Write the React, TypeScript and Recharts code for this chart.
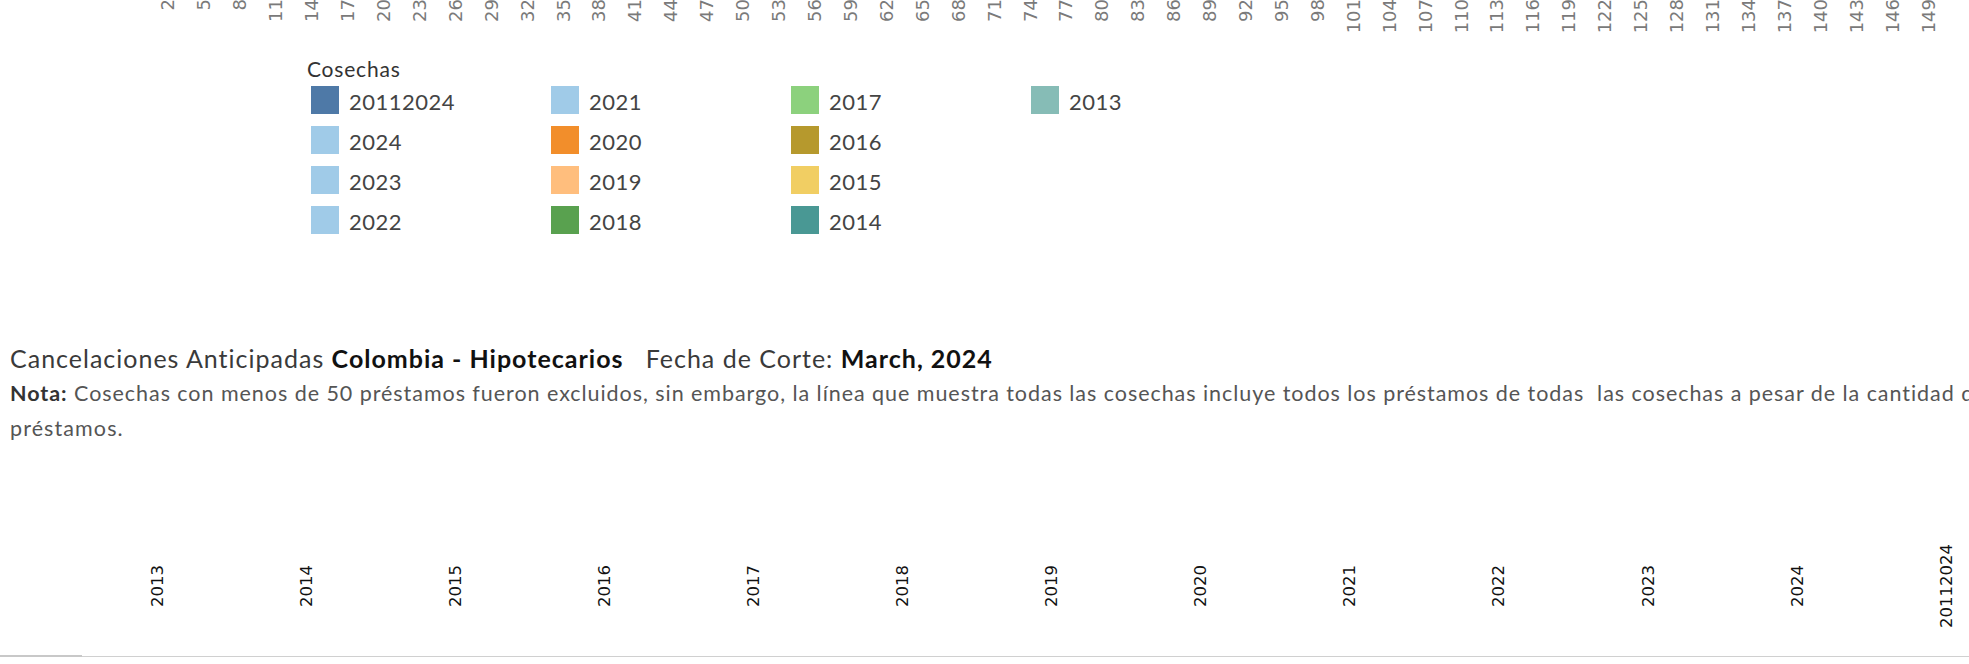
import { LineChart, XAxis, BarChart } from 'recharts'

// plazo (months) shown on the top axis, every third one
const PLAZO_TICKS = [
  2, 5, 8, 11, 14, 17, 20, 23, 26, 29, 32, 35, 38, 41, 44, 47, 50, 53, 56, 59,
  62, 65, 68, 71, 74, 77, 80, 83, 86, 89, 92, 95, 98, 101, 104, 107, 110, 113,
  116, 119, 122, 125, 128, 131, 134, 137, 140, 143, 146, 149,
]

// legend: cosechas in the order tableau lists them (column by column)
const LEGEND_NAMES = [
  '20112024', '2024', '2023', '2022',
  '2021', '2020', '2019', '2018',
  '2017', '2016', '2015', '2014',
  '2013',
]
const LEGEND_COLORS = [
  '#4e79a7', '#a0cbe8', '#a0cbe8', '#a0cbe8',
  '#a0cbe8', '#f28e2b', '#ffbe7d', '#59a14f',
  '#8cd17d', '#b6992d', '#f1ce63', '#499894',
  '#86bcb6',
]

// column headers of the trellis below
const HEADER_COSECHAS = [
  '2013', '2014', '2015', '2016', '2017', '2018', '2019',
  '2020', '2021', '2022', '2023', '2024', '20112024',
]

const TEXT_FONT = 'Lato, "Noto Sans", sans-serif'
const AXIS_FONT = '"DejaVu Sans", sans-serif'

const plazoData = PLAZO_TICKS.map((p) => ({ plazo: p }))
const headerData = HEADER_COSECHAS.map((c) => ({ cosecha: c }))

// eslint-disable-next-line @typescript-eslint/no-explicit-any
function PlazoTick(props: any) {
  const { x, y, payload } = props
  return (
    <text
      x={x}
      y={y}
      transform={`rotate(-90 ${x} ${y})`}
      textAnchor="end"
      dominantBaseline="central"
      fontFamily={AXIS_FONT}
      fontSize={18}
      fill="#7a7a7a"
    >
      {payload.value}
    </text>
  )
}

// eslint-disable-next-line @typescript-eslint/no-explicit-any
function HeaderTick(props: any) {
  const { x, y, payload } = props
  return (
    <text
      x={x}
      y={y}
      transform={`rotate(-90 ${x} ${y})`}
      textAnchor="middle"
      dominantBaseline="central"
      fontFamily={AXIS_FONT}
      fontSize={16.5}
      fill="#111"
    >
      {payload.value}
    </text>
  )
}

function CosechasLegend() {
  return (
    <g fontFamily={TEXT_FONT}>
      <text x={307} y={77} fontSize={21} letterSpacing={0.8} fill="#333">
        Cosechas
      </text>
      {LEGEND_NAMES.map((name, i) => {
        const col = Math.floor(i / 4)
        const row = i % 4
        const x = 311 + col * 240
        const y = 86 + row * 40
        return (
          <g key={name}>
            <rect x={x} y={y} width={28} height={28} fill={LEGEND_COLORS[i]} />
            <text x={x + 38} y={y + 24} fontSize={22} letterSpacing={0.5} fill="#444">
              {name}
            </text>
          </g>
        )
      })}
    </g>
  )
}

export default function App() {
  return (
    <div
      style={{
        position: 'absolute',
        left: 0,
        top: 0,
        width: 1969,
        height: 664,
        overflow: 'hidden',
        background: '#fff',
      }}
    >
      {/* top chart: only its x-axis labels reach into view */}
      <div style={{ position: 'absolute', left: 0, top: -41 }}>
        <LineChart width={1969} height={100} data={plazoData} margin={{ top: 0, right: 29, left: 144, bottom: 0 }}>
          <XAxis
            dataKey="plazo"
            type="number"
            domain={[0, 150]}
            ticks={PLAZO_TICKS}
            interval={0}
            height={60}
            tickSize={0}
            tickMargin={0}
            axisLine={false}
            tickLine={false}
            tick={<PlazoTick />}
          />
        </LineChart>
      </div>

      <svg width={1969} height={664} style={{ position: 'absolute', left: 0, top: 0 }}>
        <CosechasLegend />
        <text x={10} y={368} fontFamily={TEXT_FONT} fontSize={25} letterSpacing={1} fill="#3a3a3a" style={{ whiteSpace: 'pre' }}>
          <tspan>Cancelaciones Anticipadas </tspan>
          <tspan fontWeight={700} fill="#111">Colombia - Hipotecarios</tspan>
          <tspan>   Fecha de Corte: </tspan>
          <tspan fontWeight={700} fill="#111">March, 2024</tspan>
        </text>
        <text x={10} y={401} fontFamily={TEXT_FONT} fontSize={21.5} letterSpacing={0.95} fill="#555" style={{ whiteSpace: 'pre' }}>
          <tspan fontWeight={700} fill="#333">Nota:</tspan>
          <tspan>
            {' Cosechas con menos de 50 préstamos fueron excluidos, sin embargo, la línea que muestra todas las cosechas incluye todos los préstamos de todas  las cosechas a pesar de la cantidad de'}
          </tspan>
        </text>
        <text x={10} y={436} fontFamily={TEXT_FONT} fontSize={21.5} letterSpacing={1.1} fill="#555">
          préstamos.
        </text>
      </svg>

      {/* trellis column headers */}
      <div style={{ position: 'absolute', left: 0, top: 500 }}>
        <BarChart width={2030} height={164} data={headerData} margin={{ top: 0, right: 9.2, left: 82.5, bottom: 0 }}>
          <XAxis
            dataKey="cosecha"
            orientation="top"
            height={86}
            interval={0}
            tickSize={0}
            tickMargin={0}
            axisLine={false}
            tickLine={false}
            tick={<HeaderTick />}
          />
        </BarChart>
      </div>

      <div style={{ position: 'absolute', left: 0, top: 655, width: 82, height: 2, background: '#c8c8c8' }} />
      <div style={{ position: 'absolute', left: 82, top: 656, width: 1887, height: 1, background: '#d0d0d0' }} />
    </div>
  )
}
